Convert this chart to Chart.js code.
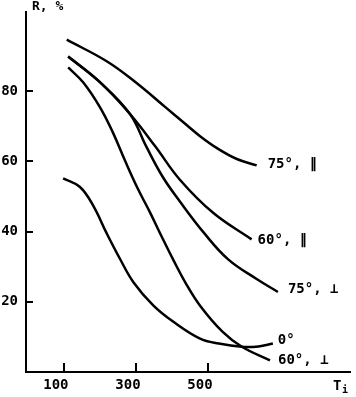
<!DOCTYPE html>
<html>
<head>
<meta charset="utf-8">
<script src="https://cdn.jsdelivr.net/npm/chart.js@4"></script>
<style>
  html, body { margin: 0; padding: 0; background: #fff; }
  canvas { display: block; }
</style>
</head>
<body>
<canvas id="chart" width="356" height="397"></canvas>
<script>
// Curve labels, top curve first
const seriesNames = ['75°, ∥', '60°, ∥', '75°, ⊥', '0°', '60°, ⊥']

// Ti (x) and R, % (y)
const t75par = [108, 220, 300, 385, 430, 478, 525, 580, 635]
const r75par = [94.7, 88.5, 82.5, 75.2, 71.3, 67.2, 63.8, 60.7, 58.9]

const t60par = [112, 200, 283, 353, 422, 515, 621]
const r60par = [89.9, 82.6, 73.6, 64.4, 54.8, 45.3, 37.8]

const t75perp = [112, 200, 283, 330, 375, 422, 490, 556, 635, 694]
const r75perp = [89.9, 82.6, 73.6, 64.0, 55.5, 48.6, 39.5, 32.1, 26.5, 22.8]

const t0 = [98, 144, 181, 219, 256, 293, 348, 404, 478, 530, 594, 640, 680]
const r0 = [55.2, 52.8, 47.5, 39.5, 32.2, 25.6, 19.0, 14.3, 9.5, 8.1, 7.2, 7.3, 8.1]

const t60perp = [112, 154, 200, 235, 269, 304, 339, 371, 403, 440, 478, 540, 594, 672]
const r60perp = [86.8, 82.5, 75.5, 68.5, 60.4, 52.5, 45.5, 38.7, 32.1, 25.0, 18.9, 11.5, 7.2, 3.3]

// Tick labels
const xTicks = [100, 300, 500]
const yTicks = [20, 40, 60, 80]

const FONT = '"DejaVu Sans Mono", monospace'

function toPoints(xs, ys) {
  return xs.map((x, i) => ({ x: x, y: ys[i] }))
}

// Draws inward tick marks, curve labels and the axis titles
const annotate = {
  id: 'annotate',
  afterDraw(chart) {
    const ctx = chart.ctx
    const { left, right, top, bottom } = chart.chartArea
    const xs = chart.scales.x
    const ys = chart.scales.y

    ctx.save()
    ctx.strokeStyle = '#000'
    ctx.lineWidth = 2
    xTicks.forEach(v => {
      const px = Math.round(xs.getPixelForValue(v))
      ctx.beginPath()
      ctx.moveTo(px, bottom)
      ctx.lineTo(px, bottom - 9)
      ctx.stroke()
    })
    yTicks.forEach(v => {
      const py = Math.round(ys.getPixelForValue(v))
      ctx.beginPath()
      ctx.moveTo(left, py)
      ctx.lineTo(left + 7, py)
      ctx.stroke()
    })

    // label at the end of each curve
    ctx.fillStyle = '#000'
    ctx.font = 'bold 14px ' + FONT
    ctx.textAlign = 'left'
    ctx.textBaseline = 'middle'
    chart.data.datasets.forEach((ds, i) => {
      const pts = chart.getDatasetMeta(i).data
      const last = pts[pts.length - 1]
      ctx.fillText(ds.label, last.x + ds.labelDx, last.y + ds.labelDy)
    })

    // axis titles
    ctx.textBaseline = 'alphabetic'
    ctx.font = 'bold 13px ' + FONT
    ctx.fillText('R, %', left + 6, top - 2)
    ctx.font = 'bold 14px ' + FONT
    ctx.fillText('T', right - 17, bottom + 18)
    ctx.font = 'bold 10px ' + FONT
    ctx.fillText('i', right - 8, bottom + 21)
    ctx.restore()
  }
}

const labelOffsets = [[11, -1], [6, 1], [10, -3], [5, -3], [8, 0]]
const seriesData = [
  toPoints(t75par, r75par),
  toPoints(t60par, r60par),
  toPoints(t75perp, r75perp),
  toPoints(t0, r0),
  toPoints(t60perp, r60perp)
]

new Chart(document.getElementById('chart'), {
  type: 'line',
  data: {
    datasets: seriesData.map((pts, i) => ({
      label: seriesNames[i],
      data: pts,
      borderColor: '#000',
      borderWidth: 2.5,
      pointRadius: 0,
      fill: false,
      tension: 0.4,
      labelDx: labelOffsets[i][0],
      labelDy: labelOffsets[i][1]
    }))
  },
  options: {
    responsive: false,
    animation: false,
    events: [],
    layout: {
      padding: { top: 12, right: 6, bottom: 0, left: 0 }
    },
    plugins: {
      legend: { display: false },
      tooltip: { enabled: false }
    },
    scales: {
      x: {
        type: 'linear',
        min: -5,
        max: 894,
        afterBuildTicks: scale => { scale.ticks = xTicks.map(v => ({ value: v })) },
        afterFit: scale => { scale.height = 25 },
        grid: { display: false, drawTicks: false },
        border: { display: true, color: '#000', width: 2 },
        ticks: {
          color: '#000',
          font: { family: FONT, size: 14, weight: 'bold' },
          padding: 5,
          labelOffset: -8,
          maxRotation: 0,
          autoSkip: false
        }
      },
      y: {
        type: 'linear',
        min: 0,
        max: 102.6,
        afterBuildTicks: scale => { scale.ticks = yTicks.map(v => ({ value: v })) },
        afterFit: scale => {
          scale.width = 26
          scale.paddingTop = 0
          scale.paddingBottom = 0
        },
        grid: { display: false, drawTicks: false },
        border: { display: true, color: '#000', width: 2 },
        ticks: {
          color: '#000',
          font: { family: FONT, size: 14, weight: 'bold' },
          padding: 8,
          autoSkip: false
        }
      }
    }
  },
  plugins: [annotate]
})
</script>
</body>
</html>
